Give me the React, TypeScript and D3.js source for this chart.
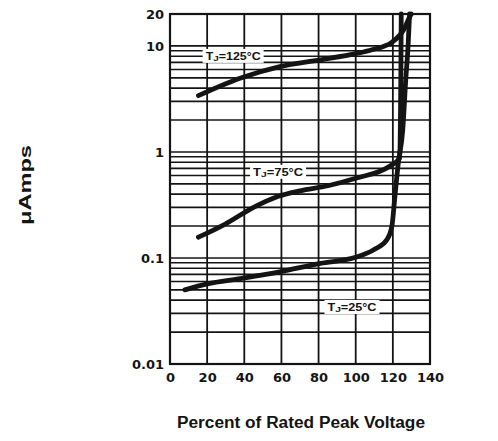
import * as d3 from "d3";
import { useRef, useEffect } from "react";

// Percent of rated peak voltage vs leakage current (µA)
const tj25 = [
  [8, 0.05], [20, 0.057], [38, 0.064], [59, 0.074], [81, 0.089], [99.5, 0.101],
  [109.5, 0.119], [116.7, 0.148], [119.5, 0.2], [121.1, 0.38], [122.9, 0.78],
  [125.3, 1.6], [127, 5], [128.2, 10], [129, 20],
];
const tj75 = [
  [15.3, 0.157], [30, 0.21], [45, 0.3], [58, 0.38], [70, 0.43], [85, 0.48],
  [100, 0.565], [118.5, 0.738], [123.6, 0.87], [124, 1.5], [124.3, 5], [124.5, 20],
];
const tj125 = [
  [15.3, 3.4], [37.7, 4.96], [59.2, 6.38], [80.8, 7.38], [100.5, 8.5],
  [108.7, 9.2], [119.4, 10.8], [125.9, 14.3], [129.2, 19], [130, 20],
];
const curves = [tj25, tj75, tj125];

const curveLabels = [
  { temp: "25", x: 98, y: 0.0345, w: 49 },
  { temp: "75", x: 58.2, y: 0.65, w: 50 },
  { temp: "125", x: 34, y: 8.05, w: 55 },
];

const xTicks = [0, 20, 40, 60, 80, 100, 120, 140];
const yTicks = [0.01, 0.1, 1, 10, 20];

const xTitle = "Percent of Rated Peak Voltage";
const yTitle = "\u03BCAmps";

function LeakageChart() {
  const chartRef = useRef(null);
  const width = 498;
  const height = 441;

  useEffect(() => {
    const svg = d3.select(chartRef.current);
    svg.selectAll("*").remove();

    const margin = { left: 170, right: 68, top: 14, bottom: 77 };
    const ink = "#141414";

    const x = d3
      .scaleLinear()
      .domain([0, 140])
      .range([margin.left, width - margin.right]);

    const y = d3
      .scaleLog()
      .domain([0.01, 20])
      .range([height - margin.bottom, margin.top]);

    svg.append("rect").attr("width", width).attr("height", height).attr("fill", "#fff");

    // Grid
    const grid = svg.append("g").attr("stroke", ink);

    grid
      .selectAll(".hgrid")
      .data(y.ticks().filter((d) => d <= 20).concat([20]))
      .join("line")
      .attr("class", "hgrid")
      .attr("x1", x(0))
      .attr("x2", x(140))
      .attr("y1", (d) => y(d))
      .attr("y2", (d) => y(d))
      .attr("stroke-width", 1.6);

    grid
      .selectAll(".vgrid")
      .data(xTicks)
      .join("line")
      .attr("class", "vgrid")
      .attr("x1", (d) => x(d))
      .attr("x2", (d) => x(d))
      .attr("y1", y(20))
      .attr("y2", y(0.01))
      .attr("stroke-width", 1.8);

    svg
      .append("rect")
      .attr("x", x(0))
      .attr("y", y(20))
      .attr("width", x(140) - x(0))
      .attr("height", y(0.01) - y(20))
      .attr("fill", "none")
      .attr("stroke", ink)
      .attr("stroke-width", 2.2);

    // Curve labels with white boxes
    const lab = svg
      .selectAll(".clabel")
      .data(curveLabels)
      .join("g")
      .attr("class", "clabel")
      .attr("transform", (d) => `translate(${x(d.x)},${y(d.y)})`);

    lab
      .append("rect")
      .attr("x", (d) => -d.w / 2 - 3)
      .attr("y", -7)
      .attr("width", (d) => d.w + 6)
      .attr("height", 14)
      .attr("fill", "#fff");

    const t = lab
      .append("text")
      .attr("text-anchor", "middle")
      .attr("y", 4)
      .attr("font-family", "Liberation Sans, Arial, sans-serif")
      .attr("font-weight", "bold")
      .attr("font-size", 10)
      .attr("fill", ink)
      .attr("textLength", (d) => d.w)
      .attr("lengthAdjust", "spacingAndGlyphs");
    t.append("tspan").text("T");
    t.append("tspan").attr("font-size", 8).attr("dy", 1.5).text("J");
    t.append("tspan").attr("dy", -1.5).text((d) => `=${d.temp}°C`);

    // Curves
    const line = d3
      .line()
      .x((d) => x(d[0]))
      .y((d) => y(d[1]))
      .curve(d3.curveMonotoneX);

    svg
      .selectAll(".curve")
      .data(curves)
      .join("path")
      .attr("class", "curve")
      .attr("d", line)
      .attr("fill", "none")
      .attr("stroke", ink)
      .attr("stroke-width", 4.8)
      .attr("stroke-linecap", "round")
      .attr("stroke-linejoin", "round");

    // Axes
    const tickFont = (g) =>
      g
        .attr("font-family", "DejaVu Sans, sans-serif")
        .attr("font-weight", "bold")
        .attr("font-size", 13)
        .call((g) => g.selectAll(".domain").remove())
        .call((g) => g.selectAll("text").attr("fill", ink));

    svg
      .append("g")
      .attr("transform", `translate(0,${y(0.01)})`)
      .call(d3.axisBottom(x).tickValues(xTicks).tickSize(0).tickPadding(9))
      .call(tickFont);

    svg
      .append("g")
      .attr("transform", `translate(${x(0)},0)`)
      .call(
        d3
          .axisLeft(y)
          .tickValues(yTicks)
          .tickFormat((d) => String(d))
          .tickSize(0)
          .tickPadding(6)
      )
      .call(tickFont);

    // Titles
    svg
      .append("text")
      .attr("x", 301)
      .attr("y", 428)
      .attr("text-anchor", "middle")
      .attr("font-family", "Liberation Sans, Arial, sans-serif")
      .attr("font-weight", "bold")
      .attr("font-size", 16)
      .attr("textLength", 248)
      .attr("lengthAdjust", "spacingAndGlyphs")
      .attr("fill", ink)
      .text(xTitle);

    svg
      .append("text")
      .attr("transform", "translate(31,185) rotate(-90)")
      .attr("text-anchor", "middle")
      .attr("font-family", "Liberation Sans, Arial, sans-serif")
      .attr("font-weight", "bold")
      .attr("font-size", 16)
      .attr("textLength", 80)
      .attr("lengthAdjust", "spacingAndGlyphs")
      .attr("fill", ink)
      .text(yTitle);
  }, []);

  return (
    <svg
      ref={chartRef}
      width={width}
      height={height}
      viewBox={`0 0 ${width} ${height}`}
      style={{ position: "absolute", left: 0, top: 0 }}
    />
  );
}

export default function App() {
  return <LeakageChart />;
}
